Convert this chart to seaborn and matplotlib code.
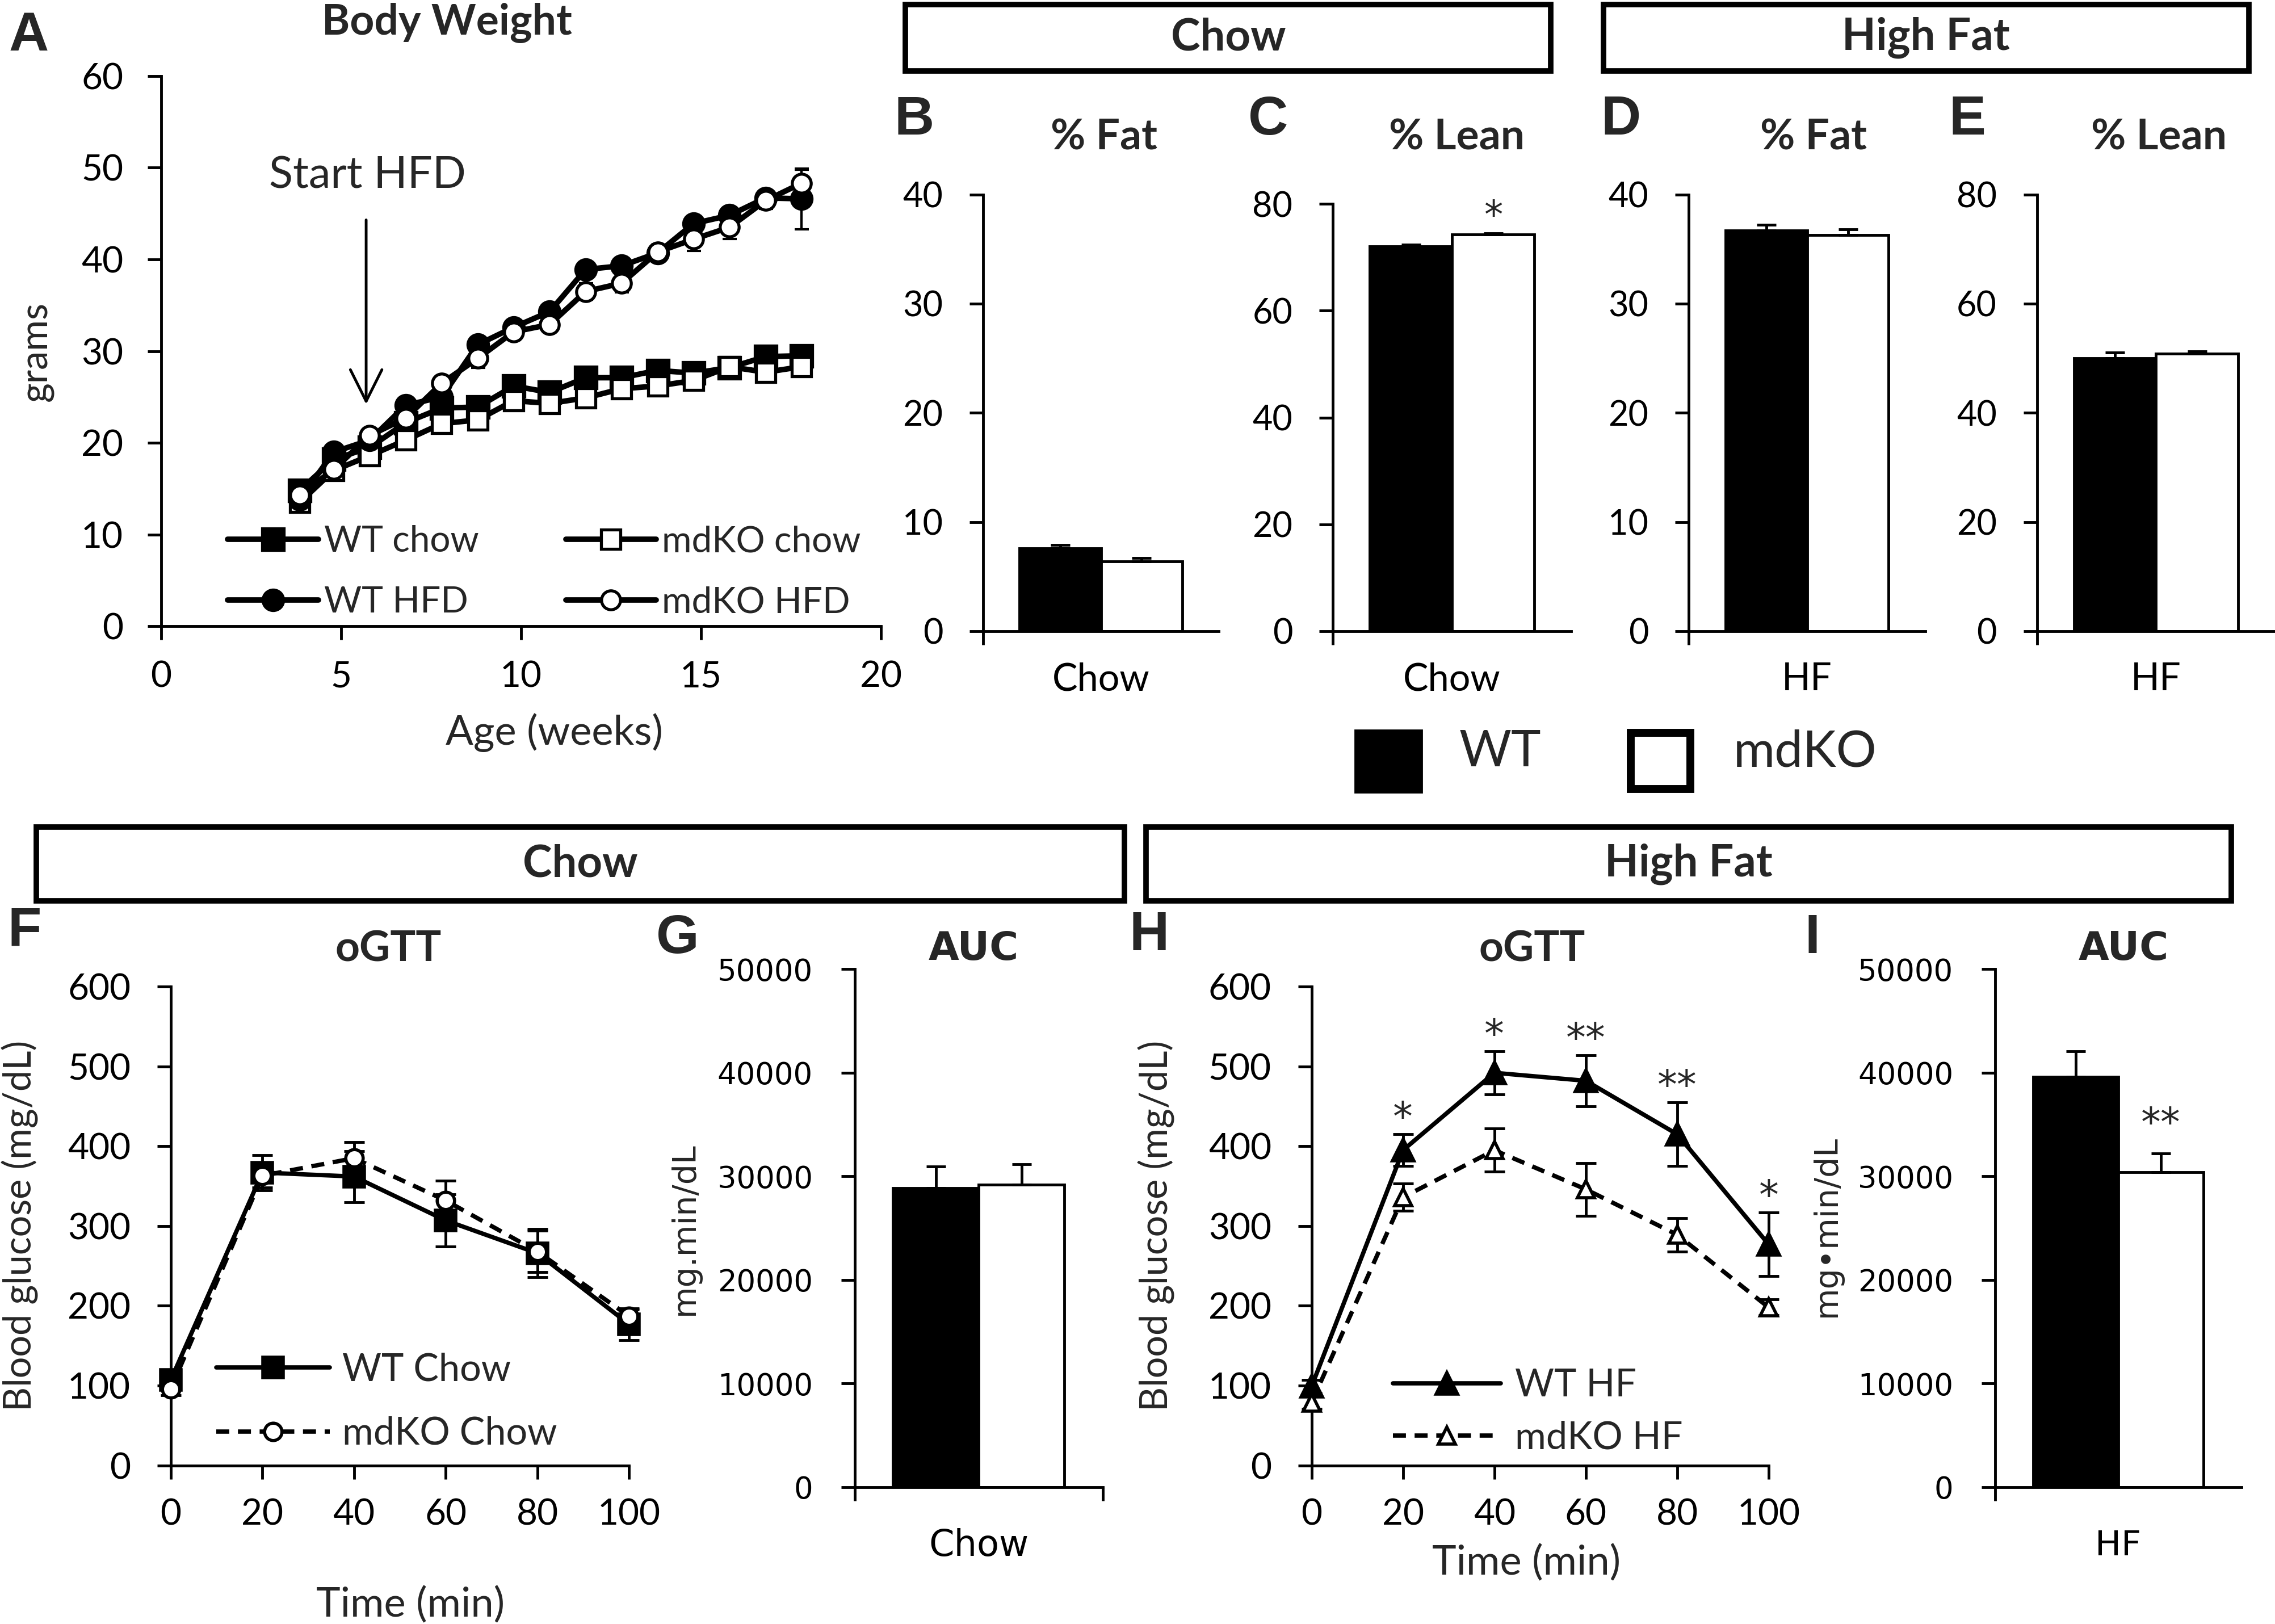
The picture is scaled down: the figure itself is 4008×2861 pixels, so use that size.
import matplotlib
matplotlib.use("Agg")
import matplotlib.pyplot as plt
from matplotlib.patches import Rectangle
import numpy as np
import pandas as pd
import seaborn as sns

# ---------------- data ----------------
# Panel A: body weight (grams) vs age (weeks)
weeks = [3.85, 4.8, 5.8, 6.8, 7.8, 8.8, 9.8, 10.8, 11.8, 12.8, 13.8, 14.8, 15.8, 16.8, 17.8]
wt_chow = [14.8, 18.2, 19.5, 22.2, 23.8, 23.9, 26.2, 25.5, 27.1, 27.1, 27.9, 27.6, 28.2, 29.4, 29.5]
wt_chow_sem = [0.8, 0.6, 0.6, 0.6, 0.7, 0.6, 0.6, 0.6, 0.6, 0.6, 0.6, 0.6, 0.6, 0.6, 0.6]
ko_chow = [13.5, 17.0, 18.6, 20.3, 22.1, 22.5, 24.6, 24.3, 24.9, 25.9, 26.2, 26.8, 28.3, 27.7, 28.3]
ko_chow_sem = [0.6, 0.7, 0.6, 0.7, 0.7, 0.6, 0.6, 0.6, 0.6, 0.5, 0.5, 0.5, 0.5, 0.6, 0.6]
wt_hfd = [13.8, 19.0, 20.3, 24.1, 25.0, 30.7, 32.6, 34.3, 38.9, 39.3, 40.7, 43.9, 44.8, 46.7, 46.6]
wt_hfd_sem = [0.6, 0.7, 0.7, 0.8, 0.9, 0.9, 0.8, 0.9, 0.8, 0.8, 0.9, 0.7, 0.8, 0.8, 3.3]
ko_hfd = [14.3, 17.1, 20.8, 22.7, 26.5, 29.2, 32.1, 32.9, 36.5, 37.4, 40.8, 42.2, 43.5, 46.4, 48.3]
ko_hfd_sem = [0.6, 0.8, 0.7, 0.8, 0.8, 1.0, 0.9, 0.8, 0.9, 1.0, 0.8, 1.3, 1.3, 0.9, 1.5]
week_ticks = [0, 5, 10, 15, 20]
gram_ticks = [0, 10, 20, 30, 40, 50, 60]

# Panels B-E, G, I: bar values (WT, mdKO)
genotypes = ["WT", "mdKO"]
fat_chow = [7.6, 6.4]
fat_chow_sem = [0.3, 0.3]
lean_chow = [72.0, 74.3]
lean_chow_sem = [0.4, 0.2]
fat_hf = [36.7, 36.3]
fat_hf_sem = [0.5, 0.5]
lean_hf = [50.0, 50.8]
lean_hf_sem = [1.0, 0.4]
auc_chow = [28850, 29200]
auc_chow_sem = [2100, 2000]
auc_hf = [39600, 30400]
auc_hf_sem = [2500, 1800]
fat_ticks = [0, 10, 20, 30, 40]
lean_ticks = [0, 20, 40, 60, 80]
auc_ticks = [0, 10000, 20000, 30000, 40000, 50000]

# Panels F, H: oGTT blood glucose (mg/dL)
time_min = [0, 20, 40, 60, 80, 100]
wt_chow_gtt = [107, 367, 362, 307, 266, 177]
wt_chow_gtt_sem = [10, 22, 32, 33, 30, 20]
ko_chow_gtt = [96, 363, 385, 332, 268, 187]
ko_chow_gtt_sem = [8, 15, 20, 25, 26, 8]
wt_hf_gtt = [99, 395, 492, 482, 415, 277]
wt_hf_gtt_sem = [8, 20, 27, 32, 40, 40]
ko_hf_gtt = [79, 336, 395, 346, 289, 198]
ko_hf_gtt_sem = [8, 17, 27, 33, 21, 10]
hf_gtt_stars = ["", "*", "*", "**", "**", "*"]
time_ticks = [0, 20, 40, 60, 80, 100]
glucose_ticks = [0, 100, 200, 300, 400, 500, 600]

# ---------------- style ----------------
sns.set_style("ticks")
LATO = ["Lato", "DejaVu Sans"]
DEJ = ["DejaVu Sans"]
ARIAL = ["Liberation Sans", "DejaVu Sans"]
plt.rcParams["font.family"] = LATO
plt.rcParams["axes.edgecolor"] = "black"

W, H = 1568.0, 1119.3
fig = plt.figure(figsize=(40.08, 28.61), dpi=100)
fig.patch.set_facecolor("white")


def add_ax(box):
    l, r, t, b = box
    ax = fig.add_axes([l / W, 1 - b / H, (r - l) / W, (b - t) / H])
    ax.set_facecolor("none")
    return ax


def ftext(x, y, s, **kw):
    kw.setdefault("ha", "center")
    kw.setdefault("va", "center")
    return fig.text(x / W, 1 - y / H, s, **kw)


def style(ax, family, size, ypad=33, xpad=26):
    sns.despine(ax=ax)
    for s in ("left", "bottom"):
        ax.spines[s].set_linewidth(3.5)
        ax.spines[s].set_color("black")
    ax.tick_params(axis="both", which="both", direction="out", length=17, width=3.5,
                   colors="black", labelsize=size, labelfontfamily=family)
    ax.tick_params(axis="y", pad=ypad)
    ax.tick_params(axis="x", pad=xpad)


def put_xlabel(ax, box, text, x, y, size, family=LATO):
    l, r, t, b = box
    ax.set_xlabel(text, fontsize=size, family=family)
    ax.xaxis.label.set_va("center")
    ax.xaxis.set_label_coords((x - l) / (r - l), (b - y) / (b - t))


def put_ylabel(ax, box, text, x, y, size, family=LATO):
    l, r, t, b = box
    ax.set_ylabel(text, fontsize=size, family=family)
    ax.yaxis.label.set_va("center")
    ax.yaxis.set_label_coords((x - l) / (r - l), (b - y) / (b - t))


def letter(x, y, s):
    ftext(x, y, s, fontsize=70, fontweight="bold", family=ARIAL)


def header(l, r, t, b, text):
    fig.add_artist(Rectangle((l / W, 1 - b / H), (r - l) / W, (b - t) / H,
                             transform=fig.transFigure, facecolor="white",
                             edgecolor="black", linewidth=7, zorder=0))
    ftext((l + r) / 2, (t + b) / 2, text, fontsize=56, fontweight="bold", family=LATO)


# ---------------- Panel A ----------------
boxA = (111, 607, 52.3, 431.7)
axA = add_ax(boxA)
A_series = [
    ("WT chow", wt_chow, wt_chow_sem, "s", "black", 28),
    ("mdKO chow", ko_chow, ko_chow_sem, "s", "white", 24),
    ("WT HFD", wt_hfd, wt_hfd_sem, "o", "black", 26),
    ("mdKO HFD", ko_hfd, ko_hfd_sem, "o", "white", 24),
]
for lab, vals, sem, mk, fc, ms in A_series:
    axA.errorbar(weeks, vals, yerr=sem, fmt="none", ecolor="black", elinewidth=3,
                 capsize=9, capthick=3, zorder=2, clip_on=False)
    sns.lineplot(x=weeks, y=vals, ax=axA, color="black", linewidth=7, marker=mk,
                 markersize=ms, markerfacecolor=fc, markeredgecolor="black",
                 markeredgewidth=3.8, label=lab, errorbar=None, legend=False,
                 zorder=3, clip_on=False)
axA.set_xlim(week_ticks[0], week_ticks[-1])
axA.set_ylim(gram_ticks[0], gram_ticks[-1])
axA.set_xticks(week_ticks)
axA.set_yticks(gram_ticks)
style(axA, LATO, 46, ypad=31, xpad=26)
put_xlabel(axA, boxA, "Age (weeks)", 382, 505, 52)
put_ylabel(axA, boxA, "grams", 25, 242, 48)
hA, lA = axA.get_legend_handles_labels()
hmap = dict(zip(lA, hA))
orderA = ["WT chow", "WT HFD", "mdKO chow", "mdKO HFD"]
axA.legend([hmap[k] for k in orderA], orderA, ncol=2, loc="upper left",
           bbox_to_anchor=(157 / W, 1 - 362 / H), bbox_transform=fig.transFigure,
           frameon=False, fontsize=46, handlelength=2.5, handletextpad=0.15,
           columnspacing=2.4, labelspacing=0.77, borderpad=0, borderaxespad=0)
axA.annotate("", xy=(5.7, 24.2), xytext=(5.7, 44.3),
             arrowprops=dict(arrowstyle="->,head_length=0.4,head_width=0.2", lw=3.5,
                             color="black", mutation_scale=100, shrinkA=0, shrinkB=0))
axA.text(5.73, 49.1, "Start HFD", fontsize=56, ha="center", va="center", family=LATO)
letter(20, 25, "A")
ftext(308, 16, "Body Weight", fontsize=54, fontweight="bold", family=LATO)


# ---------------- bar panels ----------------
def bar_panel(box, cat, vals, sems, yticks, family, tsize, catsize, catpad, ypad, right_tick):
    ax = add_ax(box)
    df = pd.DataFrame({"diet": [cat] * len(genotypes), "genotype": genotypes, "value": vals})
    sns.barplot(data=df, x="diet", y="value", hue="genotype", hue_order=genotypes,
                palette={"WT": "black", "mdKO": "white"}, saturation=1, width=0.69,
                edgecolor="black", linewidth=3.5, errorbar=None, legend=False, ax=ax, zorder=2)
    for cont, v, s in zip(ax.containers, vals, sems):
        p = cont[0]
        ax.errorbar([p.get_x() + p.get_width() / 2], [v], yerr=[[0], [s]], fmt="none",
                    ecolor="black", elinewidth=3.5, capsize=12, capthick=3.5, zorder=3,
                    clip_on=False)
    ax.set_xlim(-0.5, 0.5)
    ax.set_ylim(yticks[0], yticks[-1])
    ax.set_yticks(yticks)
    ax.set_xlabel("")
    ax.set_ylabel("")
    style(ax, family, tsize, ypad=ypad)
    ax.set_xticks([-0.5, 0.5] if right_tick else [-0.5], minor=True)
    ax.tick_params(axis="x", which="major", length=0, labelsize=catsize, pad=catpad)
    return ax


boxB = (677.6, 840, 134, 435)
boxC = (918.6, 1083, 140.5, 435)
boxD = (1164, 1327, 134, 435)
boxE = (1404, 1568, 134, 435)
axB = bar_panel(boxB, "Chow", fat_chow, fat_chow_sem, fat_ticks, LATO, 44, 48, 39, 34, False)
axC = bar_panel(boxC, "Chow", lean_chow, lean_chow_sem, lean_ticks, LATO, 44, 48, 39, 34, False)
axD = bar_panel(boxD, "HF", fat_hf, fat_hf_sem, fat_ticks, LATO, 44, 48, 39, 34, False)
axE = bar_panel(boxE, "HF", lean_hf, lean_hf_sem, lean_ticks, LATO, 44, 48, 39, 34, False)
pC = axC.containers[1][0]
axC.text(pC.get_x() + pC.get_width() / 2, lean_chow[1] + lean_chow_sem[1] + 1.0, "*",
         fontsize=48, ha="center", va="baseline", family=DEJ)
letter(630, 83, "B")
letter(874, 83, "C")
letter(1117, 83, "D")
letter(1356, 83, "E")
ftext(761, 94.5, "% Fat", fontsize=54, fontweight="bold", family=LATO)
ftext(1004, 94.5, "% Lean", fontsize=54, fontweight="bold", family=LATO)
ftext(1250, 94.5, "% Fat", fontsize=54, fontweight="bold", family=LATO)
ftext(1488, 94.5, "% Lean", fontsize=54, fontweight="bold", family=LATO)
header(624, 1069, 3, 49, "Chow")
header(1105, 1550, 3, 49, "High Fat")

# bar legend
fig.add_artist(Rectangle((934 / W, 1 - 546 / H), 46 / W, 43 / H, transform=fig.transFigure,
                         facecolor="black", edgecolor="black", linewidth=2))
fig.add_artist(Rectangle((1124 / W, 1 - 544 / H), 41 / W, 39 / H, transform=fig.transFigure,
                         facecolor="white", edgecolor="black", linewidth=10))
ftext(1034, 518.5, "WT", fontsize=64, family=LATO)
ftext(1244, 518.5, "mdKO", fontsize=64, family=LATO)

# ---------------- oGTT panels ----------------
def gtt_panel(box, series, leg_anchor, leg_hl, leg_tp, leg_ls):
    ax = add_ax(box)
    for lab, vals, sem, mk, fc, ms, ls in series:
        ax.errorbar(time_min, vals, yerr=sem, fmt="none", ecolor="black", elinewidth=3.5,
                    capsize=13, capthick=3.5, zorder=2, clip_on=False)
        sns.lineplot(x=time_min, y=vals, ax=ax, color="black", linewidth=5.5, linestyle=ls,
                     marker=mk, markersize=ms, markerfacecolor=fc, markeredgecolor="black",
                     markeredgewidth=4, label=lab, errorbar=None, legend=False,
                     zorder=3, clip_on=False)
    ax.set_xlim(time_ticks[0], time_ticks[-1])
    ax.set_ylim(glucose_ticks[0], glucose_ticks[-1])
    ax.set_xticks(time_ticks)
    ax.set_yticks(glucose_ticks)
    style(ax, LATO, 46, ypad=34, xpad=25)
    ax.legend(loc="upper left", bbox_to_anchor=leg_anchor, bbox_transform=fig.transFigure,
              frameon=False, fontsize=48, handlelength=leg_hl, handletextpad=leg_tp,
              labelspacing=leg_ls, borderpad=0, borderaxespad=0)
    return ax


DASH = (0, (3, 2))
boxF = (117.7, 433.5, 680, 1010)
axF = gtt_panel(boxF, [
    ("WT Chow", wt_chow_gtt, wt_chow_gtt_sem, "s", "black", 26, "-"),
    ("mdKO Chow", ko_chow_gtt, ko_chow_gtt_sem, "o", "white", 22, DASH),
], (149 / W, 1 - 932 / H), 3.0, 0.33, 0.76)
put_xlabel(axF, boxF, "Time (min)", 283, 1106, 52)
put_ylabel(axF, boxF, "Blood glucose (mg/dL)", 14, 845, 48)

boxH = (904, 1219, 680, 1010)
axH = gtt_panel(boxH, [
    ("WT HF", wt_hf_gtt, wt_hf_gtt_sem, "^", "black", 28, "-"),
    ("mdKO HF", ko_hf_gtt, ko_hf_gtt_sem, "^", "white", 22, DASH),
], (960 / W, 1 - 943 / H), 2.85, 0.37, 0.45)
put_xlabel(axH, boxH, "Time (min)", 1052, 1077, 52)
put_ylabel(axH, boxH, "Blood glucose (mg/dL)", 797, 845, 48)
for t, v, s, star in zip(time_min, wt_hf_gtt, wt_hf_gtt_sem, hf_gtt_stars):
    if star:
        axH.text(t, v + s + 5, star, fontsize=50, ha="center", va="baseline", family=DEJ)

letter(17, 642, "F")
letter(792, 645, "H")
ftext(267.6, 654, "oGTT", fontsize=54, fontweight="bold", family=LATO)
ftext(1056, 654, "oGTT", fontsize=54, fontweight="bold", family=LATO)

# ---------------- AUC panels ----------------
boxG = (589, 760, 668, 1025)
boxI = (1375, 1545, 668, 1025)
axG = bar_panel(boxG, "Chow", auc_chow, auc_chow_sem, auc_ticks, DEJ, 38, 46, 52, 36, True)
axI = bar_panel(boxI, "HF", auc_hf, auc_hf_sem, auc_ticks, DEJ, 38, 44, 53, 36, False)
put_ylabel(axG, boxG, "mg.min/dL", 472, 847, 41, family=DEJ)
put_ylabel(axI, boxI, "mg\u2022min/dL", 1259, 845, 41, family=DEJ)
pI = axI.containers[1][0]
axI.text(pI.get_x() + pI.get_width() / 2, auc_hf[1] + auc_hf_sem[1] + 1700, "**",
         fontsize=50, ha="center", va="baseline", family=DEJ)
letter(467, 647, "G")
letter(1249, 647, "I")
ftext(671, 654, "AUC", fontsize=50, fontweight="bold", family=DEJ)
ftext(1463.6, 654, "AUC", fontsize=50, fontweight="bold", family=DEJ)

header(25, 775, 570, 621, "Chow")
header(790, 1538, 570, 621, "High Fat")

fig.savefig("out.png", dpi=100, facecolor="white")
